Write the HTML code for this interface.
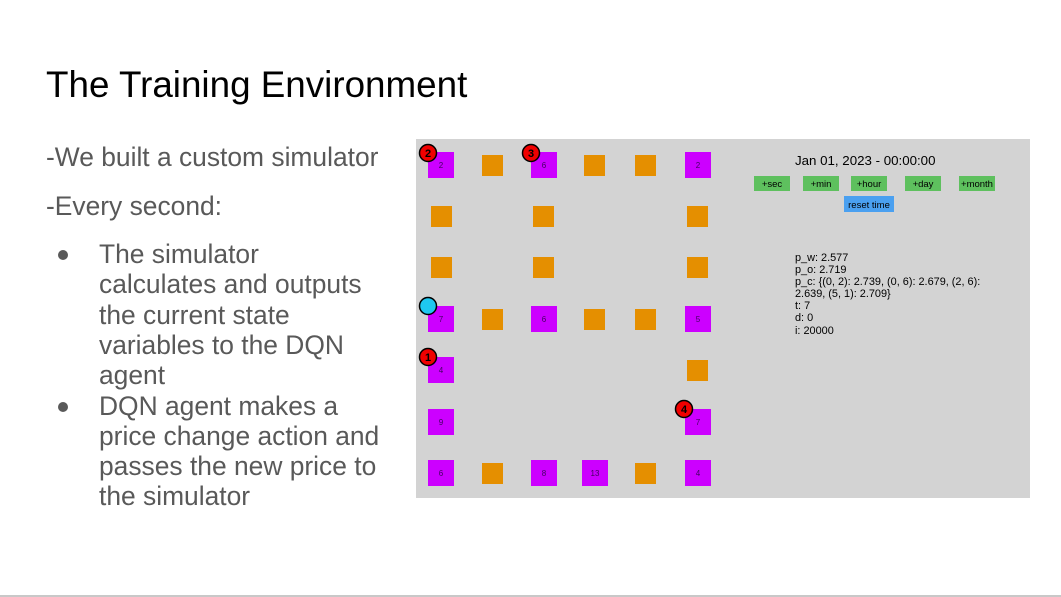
<!DOCTYPE html>
<html><head><meta charset="utf-8"><style>
html,body{margin:0;padding:0;background:#fff;width:1061px;height:597px;overflow:hidden}
svg{display:block}
</style></head><body>
<svg width="1061" height="597" viewBox="0 0 1061 597" font-family="Liberation Sans, Arial, sans-serif">
<rect x="0" y="0" width="1061" height="597" fill="#fff"/>
<line x1="0" y1="596" x2="1061" y2="596" stroke="#c8c8c8" stroke-width="2"/>
<text x="46" y="97" font-size="36.8" fill="#000">The Training Environment</text>
<g font-size="26.4" fill="#595959">
<text x="46" y="166">-We built a custom simulator</text>
<text x="46" y="215">-Every second:</text>
<text x="99" y="263">The simulator</text>
<text x="99" y="293">calculates and outputs</text>
<text x="99" y="324">the current state</text>
<text x="99" y="354">variables to the DQN</text>
<text x="99" y="384">agent</text>
<text x="99" y="415">DQN agent makes a</text>
<text x="99" y="445">price change action and</text>
<text x="99" y="475">passes the new price to</text>
<text x="99" y="505">the simulator</text>
</g>
<circle cx="63" cy="255" r="5" fill="#595959"/>
<circle cx="63" cy="407" r="5" fill="#595959"/>

<rect x="416" y="139" width="614" height="359" fill="#d3d3d3"/>
<g fill="#e58f00">
<rect x="482" y="155" width="21" height="21"/><rect x="584" y="155" width="21" height="21"/><rect x="635" y="155" width="21" height="21"/>
<rect x="431" y="206" width="21" height="21"/><rect x="533" y="206" width="21" height="21"/><rect x="687" y="206" width="21" height="21"/>
<rect x="431" y="257" width="21" height="21"/><rect x="533" y="257" width="21" height="21"/><rect x="687" y="257" width="21" height="21"/>
<rect x="482" y="309" width="21" height="21"/><rect x="584" y="309" width="21" height="21"/><rect x="635" y="309" width="21" height="21"/>
<rect x="687" y="360" width="21" height="21"/>
<rect x="482" y="463" width="21" height="21"/><rect x="635" y="463" width="21" height="21"/>
</g>
<g fill="#cc00ff">
<rect x="428" y="152" width="26" height="26"/><rect x="531" y="152" width="26" height="26"/><rect x="685" y="152" width="26" height="26"/>
<rect x="428" y="306" width="26" height="26"/><rect x="531" y="306" width="26" height="26"/><rect x="685" y="306" width="26" height="26"/>
<rect x="428" y="357" width="26" height="26"/>
<rect x="428" y="409" width="26" height="26"/><rect x="685" y="409" width="26" height="26"/>
<rect x="428" y="460" width="26" height="26"/><rect x="531" y="460" width="26" height="26"/><rect x="582" y="460" width="26" height="26"/><rect x="685" y="460" width="26" height="26"/>
</g>
<g font-size="8" fill="#400060" text-anchor="middle">
<text x="441" y="168">2</text><text x="544" y="168">6</text><text x="698" y="168">2</text>
<text x="441" y="322">7</text><text x="544" y="322">6</text><text x="698" y="322">5</text>
<text x="441" y="373">4</text>
<text x="441" y="425">9</text><text x="698" y="425">7</text>
<text x="441" y="476">6</text><text x="544" y="476">8</text><text x="595" y="476">13</text><text x="698" y="476">4</text>
</g>
<g stroke="#000" stroke-width="1.5">
<circle cx="428" cy="153" r="8.5" fill="#f00000"/>
<circle cx="531" cy="153" r="8.5" fill="#f00000"/>
<circle cx="428" cy="306" r="8.5" fill="#1ec8f0"/>
<circle cx="428" cy="357" r="8.5" fill="#f00000"/>
<circle cx="684" cy="409" r="8.5" fill="#f00000"/>
</g>
<g font-size="11" font-weight="bold" fill="#000" text-anchor="middle">
<text x="428" y="157">2</text><text x="531" y="157">3</text><text x="428" y="361">1</text><text x="684" y="413">4</text>
</g>

<text x="795" y="165" font-size="13.3" fill="#000">Jan 01, 2023 - 00:00:00</text>
<g fill="#5ec05e">
<rect x="754" y="176" width="36" height="15"/><rect x="803" y="176" width="36" height="15"/><rect x="851" y="176" width="36" height="15"/><rect x="905" y="176" width="36" height="15"/><rect x="959" y="176" width="36" height="15"/>
</g>
<rect x="844" y="196" width="50" height="16" fill="#4aa0f0"/>
<g font-size="9.5" fill="#000" text-anchor="middle">
<text x="772" y="187">+sec</text><text x="821" y="187">+min</text><text x="869" y="187">+hour</text><text x="923" y="187">+day</text><text x="977" y="187">+month</text>
<text x="869" y="208">reset time</text>
</g>
<g font-size="10.9" fill="#000">
<text x="795" y="261">p_w: 2.577</text>
<text x="795" y="273">p_o: 2.719</text>
<text x="795" y="285">p_c: {(0, 2): 2.739, (0, 6): 2.679, (2, 6):</text>
<text x="795" y="297">2.639, (5, 1): 2.709}</text>
<text x="795" y="309">t: 7</text>
<text x="795" y="321">d: 0</text>
<text x="795" y="334">i: 20000</text>
</g>
</svg>
</body></html>
